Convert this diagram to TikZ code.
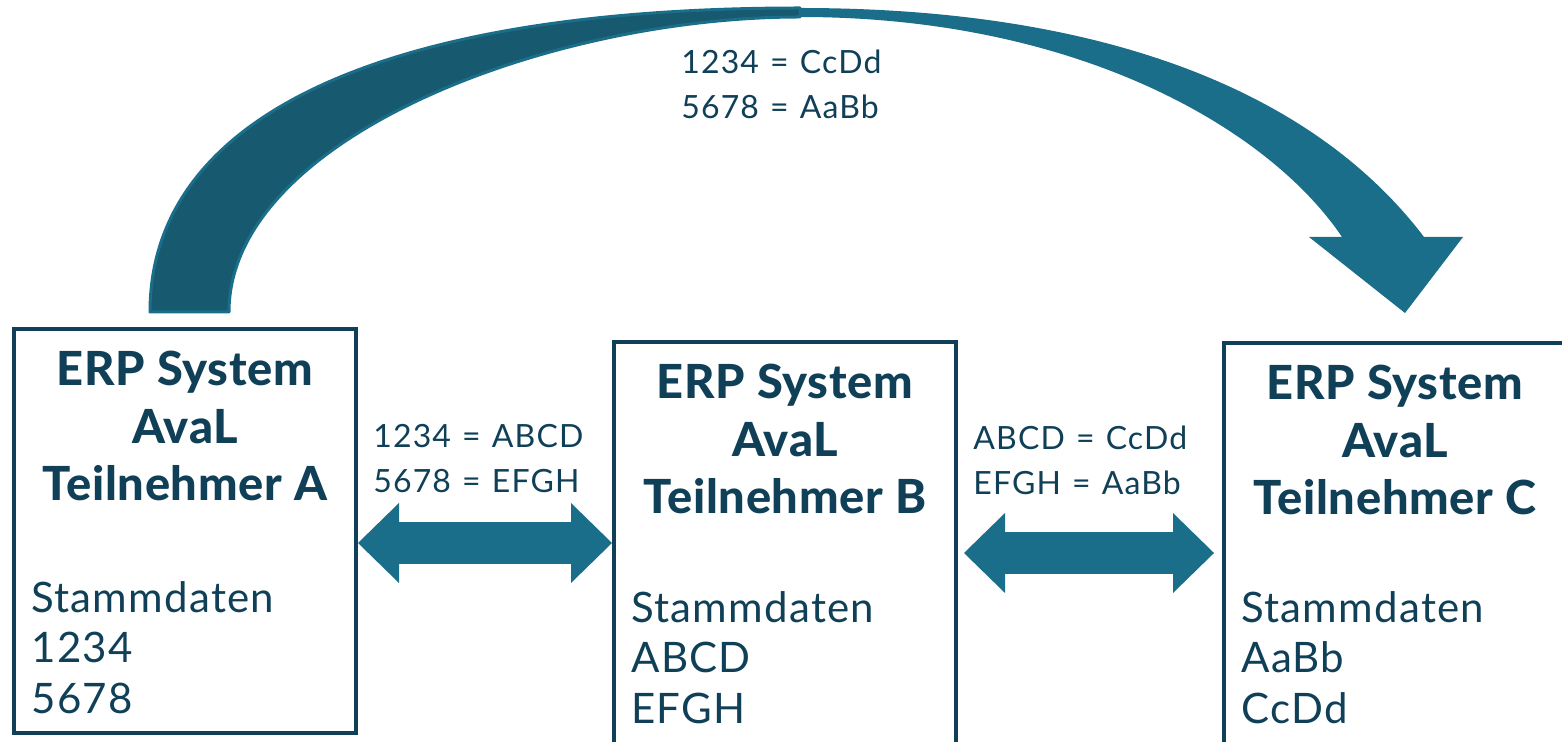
\documentclass[tikz,border=0pt]{standalone}
\usepackage{fontspec}
\setmainfont{Lato}
\newfontfamily\titelfont{Lato Heavy}[LetterSpace=1.5]
\newfontfamily\datenfont{Lato}[LetterSpace=3]
\newfontfamily\zuordfont{Lato}[LetterSpace=3.5, WordSpace=1.2]
\usetikzlibrary{positioning,arrows.meta}

\definecolor{navy}{RGB}{16,64,88}
\definecolor{petrol}{RGB}{27,110,137}
\definecolor{petroldark}{RGB}{23,89,110}

\begin{document}
\begin{tikzpicture}
[x=0.5pt,y=-0.5pt,
 erpbox/.style={draw=navy, line width=2pt, minimum width=171pt, minimum height=202pt, inner sep=0pt},
 titel/.style={text=navy, font=\titelfont\fontsize{23.5}{28.75}\selectfont, align=center, inner sep=0pt},
 daten/.style={text=navy, font=\datenfont\fontsize{21}{25.25}\selectfont, align=left, inner sep=0pt},
 zuord/.style={text=navy, font=\zuordfont\fontsize{16}{22.5}\selectfont, align=left, inner sep=0pt, anchor=north west},
 dpfeil/.style={petrol, line width=21pt,
   {Triangle[length=20.5pt,width=40pt,line width=0pt]}-{Triangle[length=20.5pt,width=40pt,line width=0pt]}},
]
\useasboundingbox (0,0) rectangle (1562,742);

% die drei Systeme
\node[erpbox] (boxA) at (185,531) {};
\node[erpbox] (boxB) at (785,544) {};
\node[erpbox] (boxC) at (1395,545) {};

\node[titel, below=12pt of boxA.north] (titelA) {ERP System\\AvaL\\Teilnehmer A};
\node[titel, below=12pt of boxB.north] (titelB) {ERP System\\AvaL\\Teilnehmer B};
\node[titel, below=12pt of boxC.north] (titelC) {ERP System\\AvaL\\Teilnehmer C};

\node[daten, below right=127pt and 9.5pt of boxA.north west] (datenA) {Stammdaten\\1234\\5678};
\node[daten, below right=125.5pt and 9.5pt of boxB.north west] (datenB) {Stammdaten\\ABCD\\EFGH};
\node[daten, below right=125pt and 9.5pt of boxC.north west] (datenC) {Stammdaten\\AaBb\\CcDd};

% Zuordnungen
\node[zuord] (mapAB) at (373,424) {1234 = ABCD\\5678 = EFGH};
\node[zuord] (mapBC) at (973,426) {ABCD = CcDd\\EFGH = AaBb};
\node[zuord] (mapAC) at (681,50) {1234 = CcDd\\5678 = AaBb};

% Doppelpfeile
\draw[dpfeil] (boxA.east |- 0,543) -- (boxB.west |- 0,543);
\draw[dpfeil, shorten <=3pt, shorten >=4pt] (boxB.east |- 0,553) -- (boxC.west |- 0,553);

% grosser Bogenpfeil von A nach C
\coordinate (schwanzL) at (150,312);
\coordinate (schwanzR) at (229,312);
\coordinate (spitze) at (1405,313);
\fill[petrol] (schwanzL) .. controls (150,115) and (385,8) .. (800,8)
  .. controls (1120,8) and (1320,100) .. (1424,237)
  -- (1463,237) -- (spitze) -- (1309,237) -- (1342,237)
  .. controls (1270,130) and (1080,17) .. (800,17)
  .. controls (545,17) and (229,140) .. (schwanzR) -- cycle;
\filldraw[fill=petroldark, draw=petrol, line width=1.5pt, line join=round]
  (schwanzL) .. controls (150,115) and (385,8) .. (800,8) -- (800,17)
  .. controls (545,17) and (229,140) .. (schwanzR) -- cycle;
\end{tikzpicture}
\end{document}
